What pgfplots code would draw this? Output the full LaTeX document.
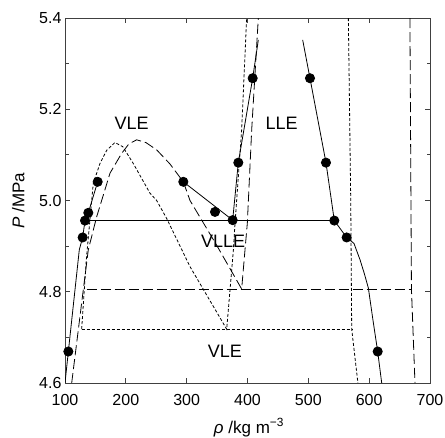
\documentclass[border=0pt]{standalone}
\usepackage{fontspec}
\setmainfont{Liberation Sans}
\usepackage{pgfplots}
\pgfplotsset{compat=1.18}

\tikzset{
  longdash/.style={dash pattern=on 10bp off 4bp},
  shortdash/.style={dash pattern=on 3bp off 2bp},
}

\begin{document}
\begin{tikzpicture}
\useasboundingbox (-65bp,-55bp) rectangle (380bp,383bp);
\begin{axis}[
  scale only axis, width=365bp, height=365bp,
  xmin=100, xmax=700, ymin=4.6, ymax=5.4,
  xtick={100,200,300,400,500,600,700},
  ytick={4.6,4.8,5.0,5.2,5.4},
  minor ytick={4.7,4.9,5.1,5.3},
  tick align=inside,
  major tick length=5bp, minor tick length=3.5bp,
  axis line style={black!75, line width=0.8bp},
  tick style={black!75, line width=0.8bp},
  /pgf/number format/assume math mode=true,
  tick label style={font=\fontsize{16bp}{18bp}\selectfont},
  xticklabel style={yshift=-8bp},
  yticklabel style={/pgf/number format/fixed, /pgf/number format/fixed zerofill, /pgf/number format/precision=1},
  xlabel={\textit{ρ} /kg m\textsuperscript{−3}},
  ylabel={\textit{P} /MPa},
  label style={font=\fontsize{17bp}{19bp}\selectfont},
  xlabel style={at={(axis description cs:0.504,-0.088)}, anchor=north},
  ylabel style={at={(axis description cs:-0.128,0.5)}, anchor=center},
  every axis plot/.append style={black, line width=0.8bp},
  clip=true,
]
% solid lines
\addplot[no marks] coordinates {(100,4.6) (105.5,4.669) (123.5,4.892) (129,4.919) (132.9,4.956) (138.3,4.973) (153.7,5.041)};
\addplot[no marks] coordinates {(132.9,4.956) (542.7,4.956)};
\addplot[no marks] coordinates {(294.5,5.041) (375.6,4.957)};
\addplot[no marks] coordinates {(375.6,4.957) (384.9,5.083) (408.5,5.268) (417.8,5.352)};
\addplot[no marks] coordinates {(490.7,5.352) (502.7,5.268) (529,5.083) (542.7,4.956) (563,4.919) (575,4.906) (585,4.87) (592,4.84) (598.7,4.808) (606,4.74) (614,4.669) (620.6,4.6)};
% long dashed
\addplot[no marks, longdash] coordinates {(111,4.6) (125,4.75) (138.3,4.892) (152,4.964) (174,5.06) (193,5.103) (205,5.124) (217.8,5.133) (233,5.127) (250.7,5.111) (272.6,5.08) (294.5,5.041) (305.5,5.0) (348,4.905) (390.4,4.806) (395.9,4.892) (399.7,4.95) (406.9,5.155) (417.8,5.4)};
\addplot[no marks, longdash] coordinates {(135.6,4.806) (669.5,4.806)};
\addplot[no marks, longdash] coordinates {(667,5.4) (669.5,4.806) (675.3,4.6)};
% short dashed
\addplot[no marks, shortdash] coordinates {(127.4,4.718) (135,4.87) (146.5,5.038) (157.5,5.081) (168.5,5.11) (182,5.127) (195,5.118) (212.3,5.081) (239.7,5.016) (250.7,5.0) (267,4.961) (305.5,4.855) (365.8,4.718) (376.7,4.89) (379.5,4.95) (390.4,5.155) (398.6,5.4)};
\addplot[no marks, shortdash] coordinates {(127.4,4.718) (571.3,4.718)};
\addplot[no marks, shortdash] coordinates {(565.8,5.4) (569.7,5.0) (571.3,4.718) (581.5,4.6)};
% data points
\addplot[only marks, mark=*, mark size=4.6bp, mark options={fill=black}] coordinates {
  (105.5,4.669) (129,4.919) (132.9,4.956) (138.3,4.973) (153.7,5.041)
  (294.5,5.041) (346.6,4.975) (375.6,4.957) (384.9,5.083) (408.5,5.268)
  (502.7,5.268) (529,5.083) (542.7,4.956) (563,4.919) (614,4.669)};
% region labels
\node[font=\fontsize{18bp}{20bp}\selectfont] at (axis cs:209.6,5.17) {VLE};
\node[font=\fontsize{18bp}{20bp}\selectfont] at (axis cs:456,5.17) {LLE};
\node[font=\fontsize{18bp}{20bp}\selectfont] at (axis cs:360,4.91) {VLLE};
\node[font=\fontsize{18bp}{20bp}\selectfont] at (axis cs:363,4.669) {VLE};
\end{axis}
\end{tikzpicture}
\end{document}
